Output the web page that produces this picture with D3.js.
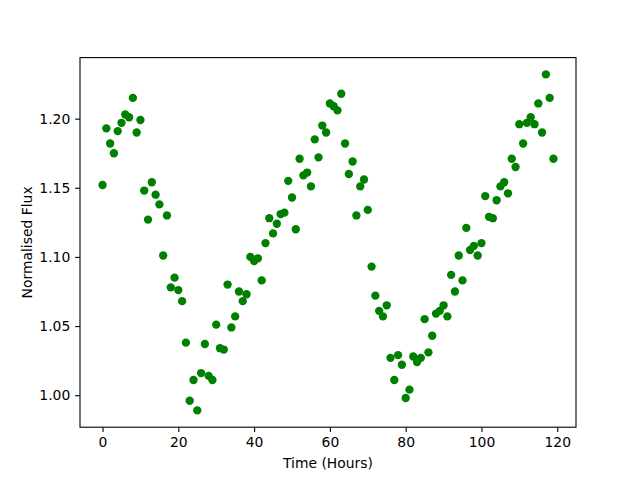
<!DOCTYPE html>
<html><head><meta charset="utf-8">
<script src="https://cdn.jsdelivr.net/npm/d3@7"></script>
<style>body{margin:0;background:#fff;} text{font-family:"DejaVu Sans",sans-serif;}</style>
</head><body>
<svg id="c" width="640" height="480"></svg>
<script>
const hours = d3.range(0, 120);
const flux = [
1.152,1.193,1.182,1.175,1.191,1.197,1.203,1.201,1.215,1.190,
1.199,1.148,1.127,1.154,1.145,1.138,1.101,1.130,1.078,1.085,
1.076,1.068,1.038,0.996,1.011,0.989,1.016,1.037,1.014,1.011,
1.051,1.034,1.033,1.080,1.049,1.057,1.075,1.068,1.073,1.100,
1.097,1.099,1.083,1.110,1.128,1.117,1.124,1.131,1.132,1.155,
1.143,1.120,1.171,1.159,1.161,1.151,1.185,1.172,1.195,1.190,
1.211,1.209,1.206,1.218,1.182,1.160,1.169,1.130,1.151,1.156,
1.134,1.093,1.072,1.061,1.057,1.065,1.027,1.011,1.029,1.022,
0.998,1.004,1.028,1.024,1.027,1.055,1.031,1.043,1.059,1.061,
1.065,1.057,1.087,1.075,1.101,1.083,1.121,1.105,1.108,1.101,
1.110,1.144,1.129,1.128,1.141,1.151,1.154,1.146,1.171,1.165,
1.196,1.182,1.197,1.201,1.196,1.211,1.190,1.232,1.215,1.171];
const xTicks = [0,20,40,60,80,100,120];
const yTicks = [1.00,1.05,1.10,1.15,1.20];
const xLabel = "Time (Hours)";
const yLabel = "Normalised Flux";

const L=80,R=576,T=57.6,B=427.2;
const svg=d3.select("#c");
const xmin=d3.min(hours),xmax=d3.max(hours),xm=(xmax-xmin)*0.05;
const ymin=d3.min(flux),ymax=d3.max(flux),ym=(ymax-ymin)*0.05;
const x=d3.scaleLinear().domain([xmin-xm,xmax+xm]).range([L,R]);
const y=d3.scaleLinear().domain([ymin-ym,ymax+ym]).range([B,T]);

svg.append("g").selectAll("circle").data(hours).join("circle")
  .attr("cx",(d,i)=>x(d)).attr("cy",(d,i)=>y(flux[i])).attr("r",4.17)
  .attr("fill","#008000");

const xa=svg.append("g").attr("transform",`translate(0,${B})`)
  .call(d3.axisBottom(x).tickValues(xTicks).tickFormat(d3.format("d")).tickSize(4.86).tickPadding(4.9));
const ya=svg.append("g").attr("transform",`translate(${L},0)`)
  .call(d3.axisLeft(y).tickValues(yTicks).tickFormat(d3.format(".2f")).tickSize(4.86).tickPadding(4.9));
[xa,ya].forEach(a=>{a.select(".domain").remove();a.selectAll("line").attr("stroke","#000").attr("stroke-width",1.1);
  a.selectAll("text").attr("font-size","13.9px").attr("fill","#000").style("font-family","DejaVu Sans");});
svg.append("rect").attr("x",L).attr("y",T).attr("width",R-L).attr("height",B-T)
  .attr("fill","none").attr("stroke","#000").attr("stroke-width",1.1);
svg.append("text").attr("x",(L+R)/2).attr("y",468).attr("text-anchor","middle")
  .attr("font-size","13.9px").text(xLabel);
svg.append("text").attr("transform",`translate(32,${(T+B)/2}) rotate(-90)`).attr("text-anchor","middle")
  .attr("font-size","13.9px").text(yLabel);
</script>
</body></html>
